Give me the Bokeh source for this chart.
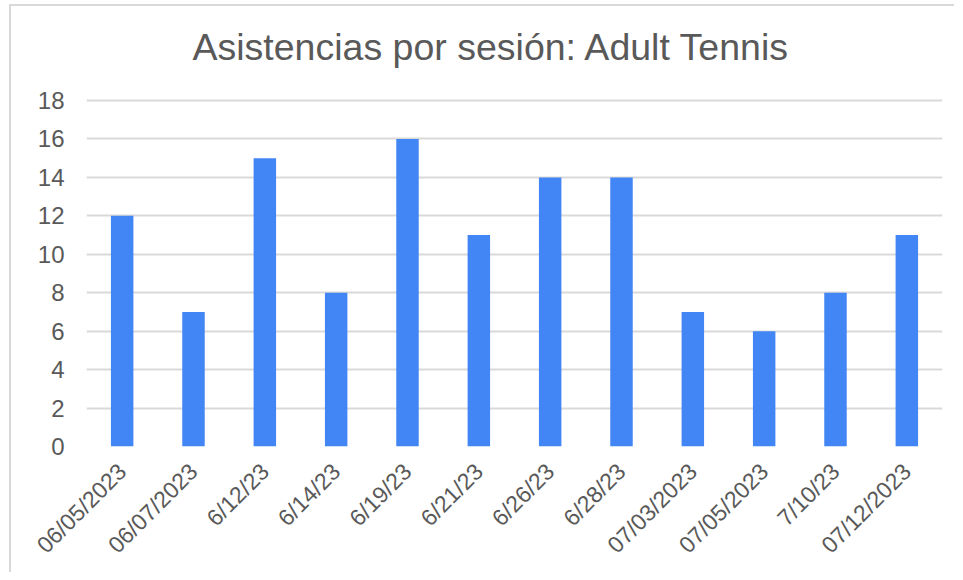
import math
from bokeh.plotting import figure
from bokeh.models import ColumnDataSource, FactorRange, Range1d, FixedTicker, Label
from bokeh.embed import file_html
from bokeh.resources import INLINE

# Data
dates = ["06/05/2023", "06/07/2023", "6/12/23", "6/14/23", "6/19/23", "6/21/23",
         "6/26/23", "6/28/23", "07/03/2023", "07/05/2023", "7/10/23", "07/12/2023"]
attendance = [12, 7, 15, 8, 16, 11, 14, 14, 7, 6, 8, 11]
y_ticks = [0, 2, 4, 6, 8, 10, 12, 14, 16, 18]
title_text = "Asistencias por sesión: Adult Tennis"

FONT = "Liberation Sans"
TEXT_COLOR = "#595959"
GRID_COLOR = "#d9d9d9"

# layout (pixels)
BORDER_TOP = 4
BORDER_BOTTOM = 128
HEIGHT = 568
FRAME_H = HEIGHT - BORDER_TOP - BORDER_BOTTOM          # frame spans title area + plot
PLOT_H = 346                                           # pixels for 0..18
Y_MAX = 18
Y_TOP = Y_MAX * FRAME_H / PLOT_H
PX_PER_UNIT = PLOT_H / Y_MAX
CAT_W = 856 / len(dates)

source = ColumnDataSource(data=dict(date=dates, value=attendance))

p = figure(
    x_range=FactorRange(*dates, range_padding=0),
    y_range=Range1d(0, Y_TOP),
    width=945, height=HEIGHT, title=None,
    output_backend="svg", toolbar_location=None,
    min_border_left=75, min_border_right=14,
    min_border_top=BORDER_TOP, min_border_bottom=BORDER_BOTTOM,
)
p.styles = {"border-left": "2px solid #d9d9d9", "border-top": "2px solid #d9d9d9",
            "margin-left": "9px", "margin-top": "4px"}

p.vbar(x="date", top="value", width=0.315, source=source, color="#4285F4", line_color=None)

title = Label(x=106 / CAT_W, y=400 / PX_PER_UNIT, text=title_text,
              text_font=FONT, text_font_size="37.5px", text_color=TEXT_COLOR,
              text_align="left", text_baseline="alphabetic")
p.add_layout(title)

p.outline_line_color = None
p.xgrid.grid_line_color = None
p.ygrid.grid_line_color = GRID_COLOR
p.ygrid.grid_line_width = 2

p.yaxis.ticker = FixedTicker(ticks=y_ticks)
for ax in (p.xaxis[0], p.yaxis[0]):
    ax.axis_line_color = None
    ax.major_tick_line_color = None
    ax.minor_tick_line_color = None
    ax.major_tick_in = 0
    ax.major_tick_out = 0
    ax.major_label_text_font = FONT
    ax.major_label_text_color = TEXT_COLOR

p.yaxis.major_label_text_font_size = "24px"
p.xaxis.major_label_text_font_size = "23px"
p.yaxis.major_label_standoff = 22
p.xaxis.major_label_orientation = math.pi / 4
p.xaxis.major_label_standoff = 21

open("out.html", "w").write(file_html(p, INLINE))
